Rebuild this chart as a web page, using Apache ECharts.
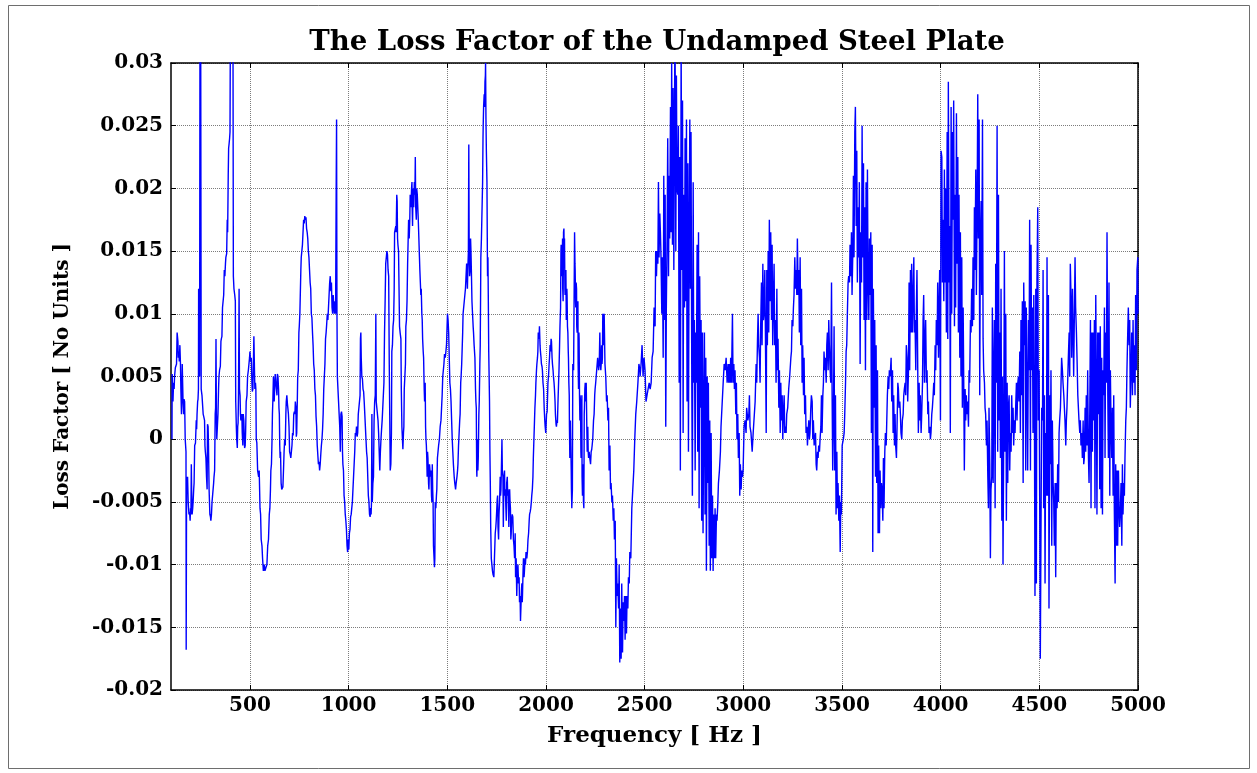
<!DOCTYPE html>
<html>
<head>
<meta charset="utf-8">
<title>Loss Factor</title>
<script src="https://cdn.jsdelivr.net/npm/echarts@6/dist/echarts.min.js"></script>
<style>
  html, body { margin: 0; padding: 0; background: #ffffff; }
  #chart { width: 1257px; height: 773px; }
</style>
</head>
<body>
<div id="chart"></div>
<script>
// Measured loss factor, as [frequency in Hz, loss factor] pairs, split by band.
const band0100 = [
  [105, 0.0000], [106, 0.0052], [108, 0.0038], [110, 0.0030], [113, 0.0045], [116, 0.0040], [118, 0.0050],
  [122, 0.0057], [125, 0.0058], [128, 0.0060], [131, 0.0085], [135, 0.0078], [137, 0.0065], [140, 0.0070],
  [142, 0.0062], [145, 0.0075], [148, 0.0060], [150, 0.0040], [153, 0.0020], [155, 0.0035], [157, 0.0060],
  [159, 0.0045], [161, 0.0030], [164, 0.0020], [166, 0.0032], [169, 0.0030], [172, 0.0000], [174, -0.0005],
  [176, -0.0010], [177, -0.0168], [179, -0.0030], [181, -0.0038], [184, -0.0030], [187, -0.0050], [191, -0.0060],
  [194, -0.0058], [197, -0.0065], [199, -0.0055], [201, -0.0060], [203, -0.0020], [205, -0.0045], [207, -0.0060],
  [210, -0.0055], [212, -0.0050], [215, -0.0040], [217, -0.0035], [220, -0.0005], [224, -0.0003], [228, 0.0015],
  [230, 0.0008], [232, 0.0020], [235, 0.0030], [237, 0.0032], [239, 0.0040], [240, 0.0120], [242, 0.0065],
  [245, 0.0050], [247, 0.0360], [250, 0.0380], [253, 0.0040], [257, 0.0035], [260, 0.0035], [263, 0.0020],
  [266, 0.0018], [270, 0.0015], [272, -0.0005], [274, -0.0010], [277, -0.0015], [280, -0.0030], [283, -0.0040],
  [285, 0.0012], [288, 0.0010], [290, -0.0005], [293, -0.0040], [297, -0.0060], [300, -0.0062], [302, -0.0065],
  [305, -0.0060], [308, -0.0050], [312, -0.0050], [316, -0.0035], [318, -0.0030], [321, -0.0025], [324, 0.0020],
  [326, 0.0025], [328, 0.0080], [330, 0.0020], [332, 0.0000], [335, 0.0010], [338, 0.0020], [341, 0.0040],
  [343, 0.0050], [346, 0.0055], [350, 0.0058], [353, 0.0078], [355, 0.0080], [358, 0.0082], [361, 0.0105],
  [364, 0.0110], [367, 0.0115], [370, 0.0135], [373, 0.0130], [376, 0.0140], [378, 0.0145], [382, 0.0148],
  [385, 0.0175], [387, 0.0165], [390, 0.0210], [392, 0.0232], [394, 0.0235], [397, 0.0240], [399, 0.0245],
  [401, 0.0340], [406, 0.0360], [411, 0.0350], [414, 0.0330], [416, 0.0130], [419, 0.0120], [423, 0.0115],
  [426, 0.0110], [428, 0.0030], [431, 0.0010], [433, 0.0000], [436, -0.0007], [438, 0.0010], [440, 0.0013],
  [442, 0.0035], [445, 0.0120], [447, 0.0040], [450, 0.0035], [452, 0.0020], [454, 0.0015], [457, 0.0018],
  [459, 0.0020], [461, 0.0005], [464, -0.0005], [466, 0.0020], [469, 0.0015], [473, -0.0007], [476, -0.0005],
  [478, 0.0005], [481, 0.0030], [485, 0.0035], [488, 0.0050], [492, 0.0055], [495, 0.0060], [498, 0.0065],
  [500, 0.0070], [503, 0.0062], [507, 0.0065], [510, 0.0045], [512, 0.0038], [515, 0.0040], [518, 0.0065],
  [520, 0.0082], [523, 0.0055], [525, 0.0040], [528, 0.0045], [530, 0.0040], [532, 0.0000], [535, -0.0003],
  [539, -0.0025], [544, -0.0030], [547, -0.0025], [551, -0.0055], [554, -0.0060], [557, -0.0080], [561, -0.0085],
  [564, -0.0095], [568, -0.0105], [573, -0.0100], [576, -0.0105]
];

const band0578 = [
  [578, -0.0105], [582, -0.0102], [586, -0.0100], [590, -0.0085], [594, -0.0080], [598, -0.0060], [601, -0.0055],
  [604, -0.0040], [606, -0.0025], [609, -0.0020], [612, 0.0000], [614, 0.0020], [616, 0.0030], [619, 0.0050],
  [621, 0.0050], [623, 0.0030], [625, 0.0040], [628, 0.0052], [631, 0.0053], [634, 0.0040], [637, 0.0035],
  [639, 0.0052], [642, 0.0050], [645, 0.0040], [647, 0.0025], [649, 0.0020], [651, -0.0005], [653, -0.0015],
  [655, -0.0010], [658, -0.0035], [661, -0.0040], [664, -0.0040], [667, -0.0038], [670, -0.0025], [673, -0.0010],
  [676, 0.0000], [679, -0.0005], [682, 0.0020], [684, 0.0030], [687, 0.0035], [690, 0.0028], [692, 0.0025],
  [695, 0.0020], [698, 0.0010], [701, -0.0010], [704, -0.0012], [707, -0.0015], [710, -0.0010], [713, -0.0005],
  [716, 0.0005], [719, 0.0003], [722, 0.0020], [725, 0.0022], [728, 0.0020], [730, 0.0030], [733, 0.0025],
  [735, 0.0002], [737, 0.0005], [740, 0.0030], [742, 0.0050], [745, 0.0055], [748, 0.0085], [750, 0.0090],
  [753, 0.0100], [756, 0.0100], [758, 0.0135], [760, 0.0145], [763, 0.0150], [766, 0.0155], [769, 0.0165],
  [772, 0.0175], [775, 0.0172], [778, 0.0178], [781, 0.0175], [784, 0.0177], [787, 0.0168], [790, 0.0165],
  [793, 0.0160], [796, 0.0150], [799, 0.0145], [802, 0.0135], [805, 0.0125], [808, 0.0120], [811, 0.0100],
  [814, 0.0097], [817, 0.0085], [820, 0.0075], [823, 0.0060], [826, 0.0055], [829, 0.0040], [832, 0.0035],
  [835, 0.0018], [838, 0.0010], [841, -0.0005], [844, -0.0005], [847, -0.0020], [850, -0.0018], [853, -0.0025],
  [856, -0.0020], [859, -0.0012], [862, -0.0005], [865, 0.0000], [868, 0.0008], [871, 0.0020], [874, 0.0040],
  [877, 0.0050], [880, 0.0060], [883, 0.0080], [886, 0.0085], [889, 0.0092], [892, 0.0100], [895, 0.0095],
  [898, 0.0105], [901, 0.0115], [904, 0.0125], [907, 0.0130], [910, 0.0118], [913, 0.0125], [916, 0.0105],
  [919, 0.0100], [922, 0.0115], [925, 0.0105], [928, 0.0100], [931, 0.0110], [934, 0.0100], [937, 0.0200],
  [939, 0.0255], [941, 0.0100], [943, 0.0050], [946, 0.0050], [949, 0.0030], [952, 0.0020], [955, 0.0010],
  [958, -0.0010], [961, 0.0020], [964, 0.0022], [967, 0.0018], [969, -0.0010], [971, -0.0020], [974, -0.0025],
  [977, -0.0045], [980, -0.0050], [983, -0.0060], [986, -0.0065], [989, -0.0072], [992, -0.0085], [995, -0.0090],
  [998, -0.0080], [1001, -0.0088], [1004, -0.0075], [1007, -0.0072], [1010, -0.0062], [1013, -0.0060],
  [1016, -0.0055], [1019, -0.0050], [1022, -0.0040], [1025, -0.0030], [1028, -0.0020], [1031, -0.0010],
  [1034, 0.0005], [1037, 0.0003], [1040, 0.0010], [1043, 0.0002], [1046, 0.0005], [1049, 0.0020], [1052, 0.0025],
  [1055, 0.0030], [1058, 0.0035], [1060, 0.0080], [1062, 0.0085], [1064, 0.0065], [1067, 0.0050], [1070, 0.0048],
  [1073, 0.0040], [1076, 0.0038], [1079, 0.0030], [1082, 0.0020], [1085, 0.0010], [1088, 0.0000], [1091, -0.0010],
  [1094, -0.0015], [1097, -0.0030], [1100, -0.0045], [1103, -0.0050], [1106, -0.0060], [1109, -0.0062],
  [1112, -0.0055], [1114, -0.0060], [1116, -0.0050], [1118, 0.0020], [1120, -0.0050], [1123, -0.0035],
  [1126, -0.0030], [1129, 0.0015], [1132, 0.0030], [1135, 0.0035], [1138, 0.0100], [1140, 0.0030], [1143, 0.0025],
  [1146, 0.0020], [1149, 0.0015], [1152, 0.0005], [1155, -0.0010], [1158, -0.0025], [1161, -0.0010], [1164, 0.0000],
  [1167, 0.0008], [1170, 0.0015], [1173, 0.0025], [1176, 0.0035], [1179, 0.0045], [1182, 0.0085], [1185, 0.0110],
  [1188, 0.0140], [1191, 0.0145], [1194, 0.0150], [1197, 0.0147], [1200, 0.0135], [1203, 0.0130], [1206, 0.0060]
];

const band1211 = [
  [1211, -0.0025], [1214, -0.0020], [1217, 0.0005], [1219, 0.0070], [1222, 0.0075], [1225, 0.0090], [1228, 0.0095],
  [1231, 0.0120], [1233, 0.0165], [1236, 0.0165], [1239, 0.0170], [1241, 0.0165], [1244, 0.0195], [1246, 0.0190],
  [1248, 0.0160], [1250, 0.0155], [1253, 0.0150], [1256, 0.0150], [1258, 0.0090], [1261, 0.0085], [1265, 0.0080],
  [1267, 0.0040], [1270, 0.0010], [1272, 0.0010], [1275, -0.0008], [1278, 0.0005], [1280, 0.0010], [1282, 0.0040],
  [1285, 0.0050], [1288, 0.0060], [1290, 0.0090], [1293, 0.0095], [1296, 0.0110], [1299, 0.0140], [1302, 0.0140],
  [1304, 0.0175], [1307, 0.0160], [1310, 0.0175], [1312, 0.0195], [1315, 0.0185], [1317, 0.0190], [1319, 0.0200],
  [1321, 0.0205], [1322, 0.0185], [1324, 0.0170], [1326, 0.0195], [1328, 0.0200], [1330, 0.0185], [1333, 0.0205],
  [1336, 0.0195], [1338, 0.0225], [1340, 0.0185], [1343, 0.0175], [1345, 0.0200], [1348, 0.0195], [1351, 0.0195],
  [1353, 0.0175], [1356, 0.0160], [1359, 0.0145], [1361, 0.0135], [1363, 0.0135], [1366, 0.0115], [1368, 0.0120],
  [1371, 0.0100], [1373, 0.0095], [1375, 0.0080], [1378, 0.0070], [1380, 0.0065], [1383, 0.0040], [1385, 0.0030],
  [1388, 0.0045], [1390, 0.0010], [1392, 0.0000], [1394, -0.0005], [1396, -0.0015], [1398, -0.0030], [1400, -0.0010],
  [1402, -0.0015], [1405, -0.0035], [1407, -0.0040], [1410, -0.0020], [1412, -0.0020], [1415, -0.0030],
  [1417, -0.0025], [1420, -0.0045], [1422, -0.0050], [1424, -0.0020], [1426, -0.0040], [1428, -0.0050],
  [1430, -0.0085], [1433, -0.0095], [1435, -0.0102], [1437, -0.0095], [1439, -0.0050], [1442, -0.0055],
  [1445, -0.0045], [1447, -0.0040], [1450, -0.0015], [1453, -0.0010], [1456, -0.0005], [1460, 0.0000],
  [1464, 0.0010], [1468, 0.0015], [1471, 0.0025], [1474, 0.0035], [1477, 0.0050], [1480, 0.0055], [1483, 0.0060],
  [1486, 0.0068], [1490, 0.0065], [1493, 0.0070], [1496, 0.0075], [1499, 0.0090], [1501, 0.0100], [1504, 0.0095],
  [1507, 0.0085], [1510, 0.0065], [1513, 0.0045], [1516, 0.0040], [1519, 0.0030], [1522, 0.0015], [1525, 0.0000],
  [1528, -0.0010], [1531, -0.0020], [1535, -0.0030], [1538, -0.0035], [1542, -0.0040], [1545, -0.0035],
  [1549, -0.0030], [1552, -0.0025], [1554, -0.0020], [1557, -0.0005], [1560, 0.0005], [1563, 0.0015], [1565, 0.0020],
  [1568, 0.0045], [1570, 0.0050], [1573, 0.0060], [1575, 0.0070], [1578, 0.0085], [1580, 0.0100], [1583, 0.0105],
  [1586, 0.0110], [1589, 0.0115], [1592, 0.0120], [1595, 0.0130], [1598, 0.0140], [1600, 0.0130], [1602, 0.0120],
  [1604, 0.0135], [1607, 0.0150], [1609, 0.0235], [1611, 0.0150], [1613, 0.0130], [1616, 0.0135], [1618, 0.0160],
  [1620, 0.0150], [1622, 0.0135], [1625, 0.0110], [1628, 0.0100], [1631, 0.0090], [1633, 0.0085], [1636, 0.0075],
  [1640, 0.0065], [1643, 0.0040], [1645, 0.0030], [1647, 0.0025], [1649, -0.0025], [1650, -0.0030], [1652, 0.0000],
  [1655, -0.0025], [1657, -0.0015], [1660, 0.0020], [1662, 0.0030], [1665, 0.0060], [1667, 0.0075], [1669, 0.0120],
  [1670, 0.0145], [1673, 0.0160], [1675, 0.0175], [1677, 0.0190], [1679, 0.0205], [1681, 0.0240], [1682, 0.0250],
  [1684, 0.0265], [1687, 0.0275], [1689, 0.0265], [1691, 0.0285], [1693, 0.0290], [1694, 0.0300], [1696, 0.0255],
  [1698, 0.0230], [1701, 0.0205], [1703, 0.0150], [1704, 0.0130], [1706, 0.0145], [1708, 0.0110], [1710, 0.0070],
  [1712, 0.0050], [1714, 0.0030], [1716, -0.0010], [1718, -0.0035], [1720, -0.0070], [1723, -0.0095],
  [1726, -0.0100], [1729, -0.0105], [1732, -0.0108], [1736, -0.0110], [1739, -0.0095], [1743, -0.0075],
  [1746, -0.0070], [1748, -0.0065], [1751, -0.0055], [1753, -0.0048], [1755, -0.0045], [1757, -0.0070],
  [1760, -0.0080], [1762, -0.0060], [1765, -0.0050], [1768, -0.0030], [1770, -0.0045], [1772, -0.0040],
  [1774, -0.0025], [1777, 0.0000], [1779, -0.0025], [1782, -0.0030], [1784, -0.0070], [1786, -0.0040],
  [1788, -0.0030], [1790, -0.0025], [1792, -0.0045], [1794, -0.0040], [1797, -0.0055], [1799, -0.0065],
  [1801, -0.0035], [1804, -0.0030], [1806, -0.0045], [1808, -0.0040], [1810, -0.0055], [1812, -0.0070],
  [1814, -0.0045], [1816, -0.0040], [1818, -0.0050], [1820, -0.0055], [1822, -0.0080], [1824, -0.0075],
  [1826, -0.0065], [1829, -0.0060], [1832, -0.0062], [1835, -0.0080], [1838, -0.0085], [1841, -0.0095]
];

const band1844 = [
  [1844, -0.0075], [1846, -0.0110], [1849, -0.0095], [1852, -0.0125], [1855, -0.0105], [1858, -0.0100],
  [1861, -0.0115], [1864, -0.0110], [1866, -0.0130], [1869, -0.0125], [1871, -0.0145], [1873, -0.0135],
  [1874, -0.0130], [1876, -0.0120], [1878, -0.0115], [1880, -0.0130], [1881, -0.0125], [1884, -0.0105],
  [1886, -0.0095], [1889, -0.0110], [1891, -0.0105], [1894, -0.0095], [1896, -0.0100], [1899, -0.0090],
  [1903, -0.0095], [1906, -0.0090], [1909, -0.0080], [1912, -0.0075], [1915, -0.0065], [1917, -0.0060],
  [1920, -0.0058], [1923, -0.0055], [1926, -0.0050], [1928, -0.0045], [1931, -0.0040], [1934, -0.0030],
  [1936, -0.0015], [1939, 0.0000], [1942, 0.0015], [1944, 0.0025], [1947, 0.0035], [1949, 0.0045], [1952, 0.0055],
  [1954, 0.0060], [1957, 0.0065], [1959, 0.0070], [1961, 0.0085], [1962, 0.0085], [1965, 0.0080], [1967, 0.0090],
  [1970, 0.0075], [1972, 0.0070], [1975, 0.0065], [1977, 0.0060], [1980, 0.0058], [1982, 0.0055], [1985, 0.0045],
  [1988, 0.0040], [1991, 0.0025], [1994, 0.0015], [1996, 0.0010], [1999, 0.0005], [2001, 0.0005], [2003, 0.0020],
  [2006, 0.0022], [2010, 0.0045], [2013, 0.0050], [2016, 0.0060], [2018, 0.0065], [2021, 0.0075], [2023, 0.0070],
  [2026, 0.0080], [2028, 0.0078], [2031, 0.0065], [2033, 0.0060], [2036, 0.0055], [2038, 0.0050], [2041, 0.0045],
  [2043, 0.0040], [2046, 0.0030], [2048, 0.0020], [2051, 0.0012], [2053, 0.0010], [2056, 0.0015], [2058, 0.0013],
  [2061, 0.0030], [2064, 0.0045], [2066, 0.0055], [2069, 0.0075], [2071, 0.0090], [2074, 0.0105], [2076, 0.0150],
  [2077, 0.0155], [2079, 0.0140], [2080, 0.0145], [2082, 0.0130], [2084, 0.0160], [2085, 0.0120], [2087, 0.0110],
  [2089, 0.0165], [2091, 0.0168], [2093, 0.0140], [2094, 0.0160], [2096, 0.0120], [2097, 0.0115], [2099, 0.0130],
  [2101, 0.0135], [2103, 0.0095], [2104, 0.0100], [2106, 0.0120], [2107, 0.0115], [2109, 0.0090], [2111, 0.0085],
  [2113, 0.0070], [2114, 0.0065], [2116, 0.0045], [2118, 0.0035], [2119, 0.0010], [2121, -0.0015], [2123, 0.0010],
  [2124, 0.0015], [2126, -0.0005], [2128, -0.0025], [2129, -0.0040], [2131, -0.0055], [2133, -0.0045],
  [2134, -0.0040], [2136, 0.0060], [2138, 0.0060], [2140, 0.0055], [2143, 0.0055], [2145, 0.0165], [2147, 0.0140],
  [2148, 0.0135], [2150, 0.0110], [2151, 0.0105], [2153, 0.0125], [2155, 0.0120], [2156, 0.0090], [2158, 0.0085],
  [2160, 0.0105], [2162, 0.0110], [2163, 0.0060], [2165, 0.0040], [2167, 0.0085], [2168, 0.0080], [2170, 0.0035],
  [2172, 0.0015], [2173, 0.0035], [2175, 0.0030], [2177, -0.0010], [2178, -0.0015], [2180, 0.0020], [2182, 0.0035],
  [2183, -0.0030], [2185, -0.0045], [2187, -0.0025], [2189, -0.0020], [2190, -0.0050], [2192, -0.0055],
  [2194, 0.0020], [2195, 0.0025], [2197, 0.0040], [2199, 0.0045], [2200, 0.0030], [2202, 0.0035], [2204, 0.0045],
  [2205, 0.0045], [2207, 0.0010], [2209, -0.0010], [2211, 0.0005], [2212, 0.0010], [2214, -0.0010], [2216, -0.0015],
  [2219, -0.0010], [2222, -0.0015], [2226, -0.0020], [2229, -0.0010], [2232, -0.0008], [2234, -0.0005],
  [2237, 0.0000], [2241, 0.0015], [2244, 0.0020], [2247, 0.0035], [2249, 0.0040], [2252, 0.0045], [2254, 0.0045],
  [2257, 0.0055], [2259, 0.0055], [2262, 0.0065], [2265, 0.0065], [2267, 0.0055], [2270, 0.0060], [2273, 0.0085],
  [2275, 0.0065], [2276, 0.0060], [2278, 0.0055], [2280, 0.0060], [2282, 0.0075], [2284, 0.0060], [2286, 0.0065],
  [2288, 0.0100], [2291, 0.0075], [2295, 0.0100], [2299, 0.0060], [2303, 0.0050], [2307, 0.0030], [2310, 0.0035],
  [2314, 0.0015], [2317, 0.0025], [2320, -0.0025], [2324, -0.0005], [2327, -0.0040], [2330, -0.0035],
  [2334, -0.0050], [2337, -0.0045], [2341, -0.0065], [2344, -0.0055], [2347, -0.0080], [2351, -0.0065],
  [2354, -0.0150], [2357, -0.0095], [2361, -0.0125], [2364, -0.0115], [2368, -0.0135], [2371, -0.0100],
  [2374, -0.0178], [2378, -0.0135], [2381, -0.0175], [2384, -0.0115], [2388, -0.0170], [2391, -0.0130],
  [2395, -0.0145], [2398, -0.0125], [2401, -0.0160], [2405, -0.0125], [2408, -0.0155], [2411, -0.0125],
  [2415, -0.0135], [2418, -0.0110], [2422, -0.0115], [2425, -0.0090], [2430, -0.0095], [2435, -0.0055],
  [2440, -0.0040], [2445, -0.0025], [2450, 0.0000], [2455, 0.0020], [2460, 0.0030], [2466, 0.0045],
  [2471, 0.0060], [2476, 0.0055]
];

const band2477 = [
  [2477, 0.0050], [2482, 0.0060], [2487, 0.0075], [2492, 0.0050], [2497, 0.0065], [2502, 0.0055], [2507, 0.0030],
  [2512, 0.0035], [2518, 0.0035], [2523, 0.0045], [2528, 0.0040], [2533, 0.0045], [2538, 0.0065], [2543, 0.0070],
  [2548, 0.0105], [2553, 0.0090], [2556, 0.0150], [2560, 0.0130], [2563, 0.0150], [2567, 0.0140], [2570, 0.0205],
  [2573, 0.0145], [2577, 0.0180], [2580, 0.0165], [2583, 0.0145], [2587, 0.0100], [2590, 0.0145], [2594, 0.0065],
  [2597, 0.0210], [2600, 0.0095], [2604, 0.0195], [2607, 0.0010], [2610, 0.0105], [2614, 0.0165], [2617, 0.0240],
  [2621, 0.0130], [2624, 0.0210], [2627, 0.0160], [2631, 0.0265], [2634, 0.0165], [2637, 0.0300], [2641, 0.0155],
  [2644, 0.0280], [2648, 0.0135], [2651, 0.0260], [2654, 0.0330], [2658, 0.0150], [2661, 0.0290], [2664, 0.0200],
  [2668, 0.0195], [2671, 0.0250], [2675, 0.0045], [2678, 0.0225], [2681, -0.0025], [2685, 0.0320], [2688, 0.0135],
  [2692, 0.0270], [2695, 0.0005], [2698, 0.0195], [2702, 0.0105], [2705, 0.0240], [2708, 0.0110], [2712, 0.0255],
  [2715, 0.0030], [2719, 0.0220], [2722, -0.0010], [2725, 0.0145], [2729, 0.0255], [2732, 0.0120], [2735, 0.0245],
  [2739, 0.0045], [2742, -0.0045], [2746, 0.0205], [2749, 0.0045], [2752, 0.0095], [2756, -0.0025], [2759, 0.0085],
  [2762, 0.0045], [2766, 0.0155], [2769, -0.0010], [2773, 0.0165], [2776, -0.0055], [2779, 0.0130], [2783, 0.0025],
  [2786, 0.0095], [2789, -0.0065], [2793, 0.0085], [2796, -0.0075], [2800, 0.0030], [2803, 0.0085], [2806, -0.0060],
  [2810, 0.0065], [2813, -0.0105], [2817, 0.0050], [2820, -0.0035], [2823, 0.0045], [2827, -0.0085], [2830, 0.0015],
  [2833, -0.0105], [2837, 0.0005], [2840, -0.0095], [2844, -0.0045], [2847, -0.0105], [2850, -0.0060],
  [2854, -0.0095], [2857, -0.0055], [2860, -0.0095], [2864, -0.0060], [2867, -0.0065], [2871, -0.0050],
  [2874, -0.0035], [2879, -0.0025], [2884, -0.0010], [2887, 0.0010], [2893, 0.0010], [2898, 0.0045], [2903, 0.0060],
  [2908, 0.0055], [2913, 0.0065], [2918, 0.0045], [2923, 0.0060], [2926, 0.0045], [2930, 0.0060], [2933, 0.0045],
  [2936, 0.0065], [2940, 0.0045], [2945, 0.0100], [2948, 0.0045], [2952, 0.0060], [2955, 0.0040], [2958, 0.0055],
  [2962, 0.0020], [2965, 0.0045], [2968, 0.0000], [2972, 0.0020], [2975, -0.0015], [2979, 0.0005], [2982, -0.0045],
  [2985, -0.0020], [2989, -0.0040], [2992, -0.0025], [2996, -0.0030], [2999, -0.0025], [3004, 0.0010],
  [3009, 0.0015], [3014, 0.0005], [3017, 0.0025], [3023, 0.0015], [3028, 0.0020], [3031, 0.0035], [3034, 0.0010],
  [3039, 0.0005], [3045, -0.0010], [3050, 0.0005], [3055, 0.0005], [3060, 0.0030], [3065, 0.0060], [3068, 0.0045],
  [3072, 0.0080], [3075, 0.0100], [3078, 0.0075], [3082, 0.0065], [3085, 0.0045], [3088, 0.0090], [3092, 0.0125],
  [3095, 0.0075], [3099, 0.0140], [3102, 0.0095], [3105, 0.0100], [3109, 0.0135]
];

const band3112 = [
  [3112, 0.0085], [3116, 0.0005], [3119, 0.0135], [3122, 0.0075], [3126, 0.0150], [3129, 0.0085], [3132, 0.0175],
  [3136, 0.0110], [3139, 0.0165], [3143, 0.0095], [3146, 0.0155], [3149, 0.0075], [3153, 0.0115], [3156, 0.0140],
  [3159, 0.0075], [3163, 0.0095], [3166, 0.0045], [3170, 0.0120], [3173, 0.0055], [3176, 0.0080], [3180, 0.0025],
  [3183, 0.0055], [3187, 0.0005], [3190, 0.0045], [3193, 0.0015], [3197, 0.0035], [3200, 0.0000], [3203, 0.0020],
  [3207, 0.0035], [3210, 0.0005], [3214, 0.0010], [3217, 0.0005], [3220, 0.0020], [3225, 0.0025], [3230, 0.0040],
  [3235, 0.0050], [3241, 0.0065], [3244, 0.0070], [3247, 0.0095], [3251, 0.0090], [3254, 0.0105], [3257, 0.0115],
  [3261, 0.0145], [3264, 0.0120], [3268, 0.0135], [3271, 0.0115], [3274, 0.0160], [3278, 0.0115], [3281, 0.0135],
  [3284, 0.0085], [3288, 0.0145], [3291, 0.0075], [3295, 0.0120], [3298, 0.0045], [3301, 0.0075], [3305, 0.0035],
  [3308, 0.0065], [3311, 0.0020], [3315, 0.0035], [3318, 0.0005], [3322, 0.0010], [3325, -0.0005], [3328, 0.0005],
  [3332, 0.0015], [3335, 0.0000], [3338, 0.0005], [3342, 0.0025], [3345, 0.0035], [3349, 0.0030], [3352, 0.0000],
  [3355, 0.0015], [3359, -0.0005], [3362, 0.0000], [3366, 0.0005], [3369, -0.0020], [3372, -0.0025],
  [3376, -0.0010], [3379, -0.0015], [3382, -0.0005], [3386, -0.0010], [3389, 0.0000], [3393, 0.0010],
  [3396, 0.0035], [3399, 0.0005], [3403, 0.0035], [3406, 0.0045], [3409, 0.0070], [3413, 0.0055], [3416, 0.0065],
  [3420, 0.0045], [3423, 0.0075], [3426, 0.0085], [3430, 0.0055], [3433, 0.0095], [3436, 0.0075], [3440, 0.0055],
  [3443, 0.0045], [3447, 0.0125], [3450, 0.0035], [3453, -0.0025], [3457, 0.0025], [3460, 0.0090], [3463, -0.0025],
  [3467, 0.0035], [3470, -0.0060], [3474, -0.0010], [3477, -0.0055], [3480, -0.0035], [3484, -0.0065],
  [3487, -0.0045], [3491, -0.0090], [3494, -0.0050], [3497, -0.0060], [3501, -0.0005], [3504, -0.0005],
  [3507, 0.0000], [3511, 0.0005], [3514, 0.0020], [3518, 0.0045], [3521, 0.0070], [3524, 0.0075], [3528, 0.0105],
  [3531, 0.0125], [3534, 0.0130], [3538, 0.0125], [3541, 0.0155], [3545, 0.0130], [3548, 0.0165], [3551, 0.0115],
  [3555, 0.0150], [3558, 0.0210], [3561, 0.0145], [3565, 0.0245], [3568, 0.0265], [3572, 0.0170], [3575, 0.0230],
  [3578, 0.0125], [3582, 0.0185], [3585, 0.0145], [3588, 0.0205], [3592, 0.0060], [3595, 0.0165], [3599, 0.0125],
  [3602, 0.0250], [3605, 0.0145], [3609, 0.0220], [3612, 0.0095], [3615, 0.0185], [3619, 0.0055], [3622, 0.0205],
  [3626, 0.0095], [3629, 0.0215], [3632, 0.0130], [3636, 0.0095], [3639, 0.0160], [3642, 0.0115], [3646, 0.0165],
  [3649, 0.0005], [3653, 0.0155], [3656, -0.0090], [3659, 0.0120], [3663, 0.0025], [3666, 0.0095], [3670, -0.0030],
  [3673, 0.0075], [3676, -0.0035], [3680, 0.0055], [3683, -0.0075], [3686, -0.0005], [3690, -0.0075],
  [3693, -0.0025], [3697, -0.0055], [3700, -0.0035], [3703, -0.0040], [3707, -0.0065], [3710, -0.0015],
  [3713, -0.0055], [3717, -0.0010], [3720, 0.0005], [3724, -0.0005], [3727, 0.0015], [3730, 0.0035],
  [3734, 0.0050], [3737, 0.0040], [3740, 0.0055]
];

const band3744 = [
  [3744, 0.0050], [3749, 0.0065], [3752, 0.0030], [3756, 0.0055], [3759, 0.0005], [3762, 0.0035], [3766, -0.0005],
  [3769, 0.0020], [3772, -0.0005], [3776, -0.0015], [3779, 0.0010], [3783, 0.0045], [3786, 0.0040], [3789, 0.0025],
  [3793, 0.0030], [3796, 0.0020], [3799, 0.0005], [3803, 0.0000], [3806, 0.0015], [3810, 0.0020], [3813, 0.0035],
  [3816, 0.0040], [3820, 0.0045], [3823, 0.0035], [3826, 0.0075], [3830, 0.0065], [3833, 0.0030], [3837, 0.0055],
  [3840, 0.0125], [3843, 0.0055], [3847, 0.0135], [3850, 0.0085], [3853, 0.0140], [3857, 0.0085], [3860, 0.0110],
  [3864, 0.0145], [3867, 0.0085], [3870, 0.0095], [3874, 0.0055], [3877, 0.0105], [3880, 0.0135], [3884, 0.0055],
  [3887, 0.0005], [3891, 0.0045], [3894, 0.0015], [3897, 0.0035], [3901, 0.0005], [3904, 0.0020], [3908, 0.0045],
  [3911, 0.0095], [3914, 0.0115], [3918, 0.0045], [3921, 0.0075], [3924, 0.0095], [3928, 0.0045], [3931, 0.0055],
  [3935, 0.0020], [3938, 0.0030], [3941, 0.0005], [3945, 0.0010], [3948, 0.0000], [3951, 0.0005], [3955, 0.0020],
  [3958, 0.0025], [3962, 0.0035], [3965, 0.0045], [3968, 0.0035], [3972, 0.0075], [3975, 0.0055], [3978, 0.0095],
  [3982, 0.0075], [3985, 0.0125], [3989, 0.0065], [3992, 0.0105], [3995, 0.0135], [3999, 0.0015], [4002, 0.0230],
  [4006, 0.0225], [4009, 0.0125], [4012, 0.0175], [4016, 0.0110], [4019, 0.0215], [4022, 0.0125], [4026, 0.0200],
  [4029, 0.0085], [4033, 0.0245], [4036, 0.0080], [4039, 0.0285], [4043, 0.0125], [4046, 0.0170], [4049, 0.0005],
  [4053, 0.0265], [4056, 0.0100], [4060, 0.0245], [4063, 0.0175], [4066, 0.0270], [4070, 0.0090], [4073, 0.0195],
  [4076, 0.0105], [4080, 0.0260], [4083, 0.0140], [4087, 0.0225], [4090, 0.0085], [4093, 0.0195], [4097, 0.0065],
  [4100, 0.0165], [4103, 0.0050], [4107, 0.0145], [4110, 0.0025], [4114, 0.0105], [4117, 0.0045], [4120, -0.0025],
  [4124, 0.0040], [4127, 0.0015], [4130, 0.0035], [4134, 0.0020], [4137, 0.0030], [4141, 0.0010], [4144, 0.0055],
  [4147, 0.0045], [4151, 0.0095], [4154, 0.0085], [4157, 0.0120], [4161, 0.0090], [4164, 0.0145], [4168, 0.0095],
  [4171, 0.0185], [4174, 0.0135], [4178, 0.0215], [4181, 0.0115], [4185, 0.0190], [4188, 0.0275], [4191, 0.0160],
  [4195, 0.0255], [4198, 0.0035], [4201, 0.0155], [4205, 0.0190], [4208, 0.0115], [4212, 0.0255], [4215, 0.0080],
  [4218, 0.0055], [4222, 0.0045], [4225, 0.0025], [4228, 0.0020], [4232, -0.0005], [4235, 0.0015], [4239, -0.0030],
  [4242, -0.0055], [4245, 0.0025], [4249, -0.0020], [4252, -0.0095], [4255, -0.0040], [4259, -0.0030],
  [4262, 0.0105], [4266, -0.0035], [4269, 0.0055], [4272, 0.0095], [4276, -0.0055], [4279, 0.0140], [4282, 0.0045],
  [4286, 0.0250], [4289, -0.0010], [4293, 0.0195], [4296, 0.0015], [4299, 0.0085], [4303, -0.0015], [4306, 0.0120],
  [4310, -0.0065], [4313, 0.0050], [4316, -0.0100], [4320, 0.0015], [4323, 0.0150], [4326, -0.0010], [4330, 0.0100],
  [4333, -0.0065], [4337, 0.0045], [4340, -0.0035], [4343, 0.0025], [4347, 0.0035], [4350, -0.0025],
  [4353, 0.0005], [4357, -0.0010], [4360, 0.0035], [4364, 0.0005], [4367, 0.0025], [4370, -0.0005], [4374, 0.0015]
];

const band4377 = [
  [4377, 0.0005], [4380, 0.0025], [4384, 0.0045], [4387, 0.0015], [4391, 0.0045], [4394, 0.0050], [4397, 0.0030],
  [4401, 0.0070], [4404, 0.0005], [4407, 0.0095], [4411, 0.0035], [4414, 0.0110], [4418, -0.0035], [4421, 0.0125],
  [4424, 0.0075], [4428, 0.0110], [4431, -0.0025], [4434, 0.0105], [4438, 0.0040], [4441, -0.0025], [4445, 0.0095],
  [4448, 0.0055], [4451, 0.0175], [4455, -0.0025], [4458, 0.0155], [4461, 0.0055], [4465, 0.0105], [4468, 0.0005],
  [4472, 0.0115], [4475, 0.0025], [4478, -0.0125], [4482, 0.0120], [4485, -0.0115], [4488, 0.0125], [4492, 0.0185],
  [4495, 0.0015], [4499, 0.0055], [4502, -0.0055], [4505, -0.0175], [4509, -0.0055], [4512, 0.0025], [4516, 0.0015],
  [4519, 0.0135], [4522, -0.0055], [4526, 0.0035], [4529, -0.0115], [4532, 0.0005], [4536, -0.0045], [4539, 0.0145],
  [4543, -0.0045], [4546, 0.0115], [4549, -0.0135], [4553, 0.0035], [4556, -0.0020], [4559, 0.0055], [4563, -0.0085],
  [4566, 0.0015], [4570, -0.0035], [4573, -0.0050], [4576, -0.0085], [4580, -0.0035], [4583, -0.0110],
  [4586, -0.0035], [4590, -0.0055], [4593, -0.0020], [4597, -0.0050], [4600, 0.0005], [4603, 0.0015], [4607, 0.0025],
  [4610, 0.0045], [4613, 0.0065], [4617, 0.0055], [4620, 0.0045], [4624, 0.0035], [4627, 0.0025], [4630, 0.0015],
  [4634, -0.0005], [4637, 0.0015], [4640, 0.0025], [4644, 0.0025], [4647, 0.0065], [4651, 0.0085], [4654, 0.0050],
  [4657, 0.0140], [4661, 0.0110], [4664, 0.0065], [4668, 0.0120], [4671, 0.0085], [4674, 0.0050], [4678, 0.0105],
  [4681, 0.0145], [4684, 0.0105], [4688, 0.0085], [4691, 0.0065], [4695, 0.0035], [4698, 0.0035], [4701, 0.0015],
  [4705, 0.0005], [4708, 0.0015], [4711, -0.0005], [4715, 0.0005], [4718, -0.0015], [4722, 0.0015], [4725, -0.0020],
  [4728, -0.0015], [4732, 0.0025], [4735, -0.0010], [4738, 0.0035], [4742, -0.0005], [4745, 0.0055], [4749, -0.0015],
  [4752, -0.0035], [4755, 0.0010], [4759, 0.0095], [4762, -0.0055], [4765, 0.0085], [4769, -0.0010], [4772, 0.0085],
  [4776, 0.0015], [4779, 0.0095], [4782, -0.0055], [4786, 0.0115], [4789, 0.0045], [4792, -0.0060], [4796, 0.0085],
  [4799, 0.0020], [4803, 0.0085], [4806, -0.0040], [4809, 0.0090], [4813, -0.0055], [4816, 0.0065], [4820, -0.0060],
  [4823, 0.0055], [4826, 0.0035], [4830, 0.0105], [4833, -0.0015], [4836, 0.0085], [4840, 0.0045], [4843, 0.0165],
  [4847, 0.0035], [4850, -0.0015], [4853, 0.0125], [4857, -0.0045], [4860, 0.0055], [4863, 0.0015], [4867, -0.0015],
  [4870, 0.0025], [4874, -0.0045], [4877, 0.0035], [4880, -0.0055], [4884, -0.0115], [4887, -0.0020],
  [4890, -0.0085], [4894, -0.0025], [4897, -0.0085], [4901, -0.0025], [4904, -0.0055], [4907, -0.0070],
  [4911, -0.0055], [4914, -0.0035], [4918, -0.0085], [4921, -0.0020], [4924, -0.0060], [4928, -0.0035],
  [4931, -0.0045], [4934, -0.0015], [4938, 0.0015], [4941, 0.0025], [4944, 0.0055], [4948, 0.0085], [4951, 0.0105],
  [4955, 0.0075], [4958, 0.0095], [4961, 0.0025], [4965, 0.0055], [4968, 0.0085], [4972, 0.0035], [4975, 0.0095],
  [4978, 0.0045], [4982, 0.0075], [4985, 0.0035], [4988, 0.0115], [4992, 0.0055], [4995, 0.0135], [4999, 0.0145],
  [5000, 0.0100]
];

// Axis extents and tick marks
const freqRange = [100, 5000];
const freqTicks = [500, 1000, 1500, 2000, 2500, 3000, 3500, 4000, 4500, 5000];
const lossRange = [-0.02, 0.03];
const lossStep = 0.005;

const lossCurve = [].concat(band0100, band0578, band1211, band1844, band2477, band3112, band3744, band4377);

const SERIF = '"DejaVu Serif", "Liberation Serif", serif';
const textBold = { fontFamily: SERIF, fontWeight: 'bold', color: '#000000' };

const frame = { show: true, onZero: false, lineStyle: { color: '#000000', width: 1.5 } };
const innerTicks = { show: true, inside: true, length: 5, lineStyle: { color: '#000000', width: 1 } };
const dottedGrid = { show: true, lineStyle: { color: '#7c7c7c', width: 1, type: 'dotted' } };

const chart = echarts.init(document.getElementById('chart'), null, { renderer: 'canvas' });

chart.setOption({
  animation: false,
  backgroundColor: '#ffffff',
  title: {
    text: 'The Loss Factor of the Undamped Steel Plate',
    left: 652,
    top: 24,
    textAlign: 'center',
    textStyle: Object.assign({ fontSize: 27.5 }, textBold)
  },
  graphic: [{
    type: 'rect',
    silent: true,
    shape: { x: 8.5, y: 5.5, width: 1241, height: 763 },
    style: { fill: null, stroke: '#6e6e6e', lineWidth: 1 }
  }],
  grid: { left: 171, top: 63, width: 967, height: 627, containLabel: false },
  xAxis: [{
    type: 'value',
    position: 'bottom',
    min: freqRange[0],
    max: freqRange[1],
    axisLine: frame,
    axisTick: Object.assign({ customValues: freqTicks }, innerTicks),
    axisLabel: Object.assign({
      customValues: freqTicks,
      margin: 6,
      fontSize: 20,
      formatter: v => String(v)
    }, textBold),
    splitLine: dottedGrid,
    name: 'Frequency [ Hz ]',
    nameLocation: 'middle',
    nameGap: 35,
    nameTextStyle: Object.assign({ fontSize: 23 }, textBold)
  }, {
    type: 'value',
    position: 'top',
    min: freqRange[0],
    max: freqRange[1],
    axisLine: frame,
    axisTick: Object.assign({ customValues: freqTicks }, innerTicks),
    axisLabel: { show: false },
    splitLine: { show: false }
  }],
  yAxis: [{
    type: 'value',
    position: 'left',
    min: lossRange[0],
    max: lossRange[1],
    interval: lossStep,
    axisLine: frame,
    axisTick: innerTicks,
    axisLabel: Object.assign({
      margin: 8,
      fontSize: 20,
      formatter: v => String(parseFloat(v.toFixed(4)))
    }, textBold),
    splitLine: dottedGrid,
    name: 'Loss Factor [ No Units ]',
    nameLocation: 'middle',
    nameRotate: 90,
    nameGap: 98,
    nameTextStyle: Object.assign({ fontSize: 20 }, textBold)
  }, {
    type: 'value',
    position: 'right',
    min: lossRange[0],
    max: lossRange[1],
    interval: lossStep,
    axisLine: frame,
    axisTick: innerTicks,
    axisLabel: { show: false },
    splitLine: { show: false }
  }],
  series: [{
    type: 'line',
    xAxisIndex: 0,
    yAxisIndex: 0,
    data: lossCurve,
    showSymbol: false,
    symbol: 'none',
    clip: true,
    lineStyle: { color: '#0000ff', width: 1.4 },
    emphasis: { disabled: true }
  }]
});
</script>
</body>
</html>
